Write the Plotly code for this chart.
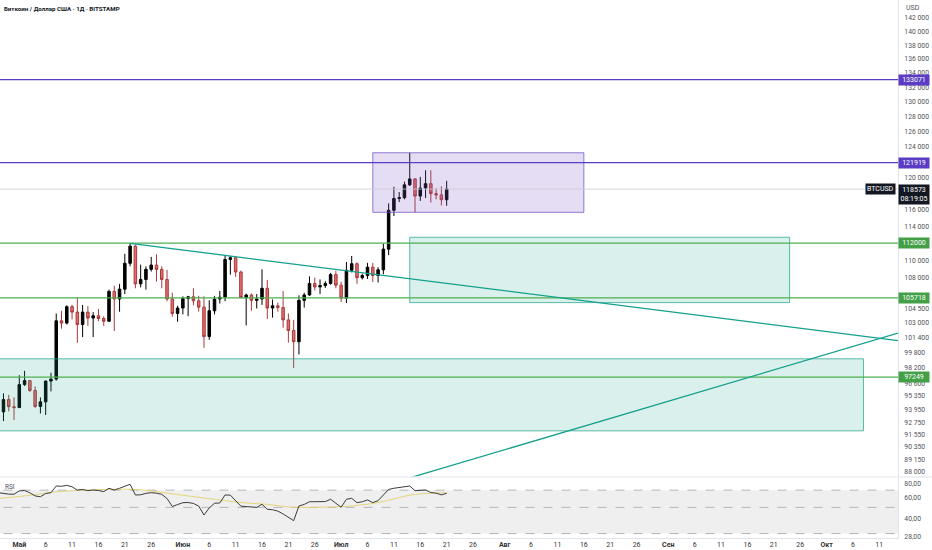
import math
import pandas as pd
import plotly.graph_objects as go

# ---------------- data ----------------
candle_start = "2025-04-28"
opens = [93750, 94980, 94270, 94180, 96490, 96900, 95900, 94300, 94750, 96850,
         97050, 103200, 102950, 104750, 104150, 102800, 104150, 103500, 103750, 103450,
         103150, 106450, 105600, 106700, 109650, 111650, 107300, 107800, 108950, 109450,
         108950, 107800, 105600, 104000, 104600, 105650, 105850, 105400, 104700, 101500,
         104300, 105600, 105800, 110100, 110300, 108650, 105750, 106050, 105450, 105600,
         106800, 104600, 104850, 104650, 103300, 102150, 100950, 105450, 106050, 107350,
         106950, 107100, 107350, 108350, 107150, 105700, 108850, 109600, 108000, 108250,
         109200, 108250, 108900, 111300, 115950, 117400, 117500, 119100, 119850, 117700,
         118700, 119250, 118000, 117850, 117250]
highs = [95600, 95450, 95200, 97450, 97900, 96950, 96300, 95200, 96900, 97700,
         104000, 104300, 104900, 104950, 105750, 104950, 104800, 104150, 104500, 103700,
         106650, 107100, 107300, 110750, 111980, 111800, 109500, 109300, 110400, 110700,
         109300, 108900, 106300, 104850, 105900, 105950, 106800, 105950, 105900, 105450,
         105950, 106500, 110600, 110500, 110400, 108800, 106200, 106200, 106150, 108950,
         107750, 105550, 105200, 106500, 104000, 103300, 106000, 106300, 108150, 108000,
         107800, 107600, 108550, 108800, 107550, 109800, 110500, 109750, 108450, 109700,
         109700, 109200, 111950, 116800, 118850, 118200, 119500, 123200, 119950, 120100,
         120950, 120950, 118650, 118900, 119600]
lows = [92850, 93800, 92950, 94150, 96350, 95750, 94150, 93600, 93450, 95800,
        96900, 102350, 102800, 103350, 100830, 101450, 102650, 101450, 103150, 102650,
        103100, 102100, 104200, 106150, 109300, 106800, 106900, 106650, 108700, 107550,
        106800, 105350, 103650, 103100, 103900, 103700, 104900, 104200, 100300, 101150,
        103900, 105100, 105350, 108350, 108100, 105700, 102700, 104300, 104550, 104950,
        103400, 103550, 104200, 102450, 100850, 98200, 99600, 104650, 105950, 106550,
        106150, 106850, 107200, 106800, 105250, 105150, 108600, 107300, 107800, 107850,
        107500, 107450, 108400, 110600, 115250, 116950, 117300, 118950, 115700, 117100,
        117450, 116900, 117300, 116550, 116500]
closes = [94980, 94270, 94180, 96490, 96900, 95900, 94300, 94750, 96850, 97050,
          103200, 102950, 104750, 104150, 102800, 104150, 103500, 103750, 103450, 103150,
          106450, 105600, 106700, 109650, 111650, 107300, 107800, 108950, 109450, 108950,
          107800, 105600, 104000, 104600, 105650, 105850, 105400, 104700, 101500, 104300,
          105600, 105800, 110100, 110300, 108650, 105750, 106050, 105450, 105600, 106800,
          104600, 104850, 104650, 103300, 102150, 100950, 105450, 106050, 107350, 106950,
          107100, 107350, 108350, 107150, 105700, 108850, 109600, 108000, 108250, 109200,
          108250, 108900, 111300, 115950, 117400, 117500, 119100, 119850, 117700, 118700,
          119250, 118000, 117850, 117250, 118573]

rsi_start = "2025-04-27"
rsi = [66.6, 65.5, 64.8, 64.6, 69.0, 69.5, 66.5, 62.5, 61.5, 65.5,
       66.6, 75.9, 75.5, 76.8, 74.8, 70.0, 71.0, 69.3, 70.2, 69.5,
       68.0, 72.5, 70.2, 72.6, 75.9, 78.5, 63.7, 63.9, 65.8, 66.6,
       66.0, 64.5, 59.5, 50.9, 52.8, 54.8, 55.0, 54.0, 51.3, 43.1,
       49.5, 54.2, 54.5, 63.7, 63.5, 57.5, 51.2, 50.8, 50.2, 50.0,
       53.1, 48.2, 47.8, 46.5, 44.0, 41.0, 38.6, 51.4, 53.0, 55.8,
       55.6, 55.6, 56.0, 58.6, 54.0, 50.1, 58.6, 59.7, 54.8, 55.8,
       57.8, 54.9, 57.0, 63.5, 71.0, 72.6, 73.5, 75.0, 75.9, 69.3,
       69.3, 70.2, 66.8, 66.0, 63.8, 65.8]
rsi_ma_dates = ["2025-04-27", "2025-05-03", "2025-05-08", "2025-05-13", "2025-05-18",
                "2025-05-23", "2025-05-28", "2025-06-02", "2025-06-07", "2025-06-12",
                "2025-06-17", "2025-06-22", "2025-06-27", "2025-07-02", "2025-07-07",
                "2025-07-10", "2025-07-14", "2025-07-17", "2025-07-21"]
rsi_ma = [59.5, 63.3, 67.8, 70.0, 71.0, 71.0, 67.0, 62.5, 58.5, 55.0,
          53.0, 50.1, 50.2, 51.0, 54.0, 57.5, 63.5, 65.5, 66.6]
rsi_levels = [70, 50, 30]

# horizontal levels
purple_levels = [133071, 121919]
green_levels = [112000, 105718, 97249]
last_price = 118573
last_time = "08:19:05"

# zones: (x0, x1, y_low, y_high)
purple_zone = ("2025-07-07", "2025-08-16", 115700, 123200)
green_zones = [("2025-07-14", "2025-09-24", 105200, 112700),
               ("2025-04-01", "2025-10-08", 91900, 99150)]

# trend lines
trend_down = (["2025-05-22", "2025-10-14 13:00"], [111980, 101075])
trend_up = (["2025-07-14 07:00", "2025-10-14 13:00"], [87500, 101870])

# axis ticks
price_ticks = [142000, 140000, 138000, 136000, 134000, 132000, 130000, 128000, 126000,
               124000, 120000, 116000, 114000, 110000, 108000, 104500, 103000, 101400,
               99800, 98200, 96600, 95350, 93950, 92750, 91550, 90350, 89150, 88000]
rsi_ticks = [80, 60, 40, 28]
rsi_tick_text = ["80,00", "60,00", "40,00", "28,00"]
date_ticks = ["2025-05-01", "2025-05-06", "2025-05-11", "2025-05-16", "2025-05-21", "2025-05-26",
              "2025-06-01", "2025-06-06", "2025-06-11", "2025-06-16", "2025-06-21", "2025-06-26",
              "2025-07-01", "2025-07-06", "2025-07-11", "2025-07-16", "2025-07-21", "2025-07-26",
              "2025-08-01", "2025-08-06", "2025-08-11", "2025-08-16", "2025-08-21", "2025-08-26",
              "2025-09-01", "2025-09-06", "2025-09-11", "2025-09-16", "2025-09-21", "2025-09-26",
              "2025-10-01", "2025-10-06", "2025-10-11"]
date_tick_text = ["<b>Май</b>", "6", "11", "16", "21", "26",
                  "<b>Июн</b>", "6", "11", "16", "21", "26",
                  "<b>Июл</b>", "6", "11", "16", "21", "26",
                  "<b>Авг</b>", "6", "11", "16", "21", "26",
                  "<b>Сен</b>", "6", "11", "16", "21", "26",
                  "<b>Окт</b>", "6", "11"]

title_text = "Биткоин / Доллар США · 1Д · BITSTAMP"

# ---------------- styles ----------------
FONT = "Roboto"
PURPLE = "#5b3cc4"
GREEN_LINE = "#4caf50"
GREEN_LABEL = "#43a047"
TEAL = "#14a08c"
X_RANGE = ["2025-04-27 08:12", "2025-10-14 13:00"]
FAR = ["2025-03-01", "2025-12-31"]

dates = pd.date_range(candle_start, periods=len(opens), freq="D")
rsi_dates = pd.date_range(rsi_start, periods=len(rsi), freq="D")

fig = go.Figure()

# zones
def rect(z, fill, line, yaxis="y"):
    x0, x1, lo, hi = z
    fig.add_trace(go.Scatter(x=[x0, x1, x1, x0, x0], y=[lo, lo, hi, hi, lo],
                             mode="lines", fill="toself", fillcolor=fill,
                             line=dict(color=line, width=1), hoverinfo="skip",
                             yaxis=yaxis))

for z in green_zones:
    rect(z, "rgba(38,166,140,0.17)", "rgba(38,166,140,0.75)")
rect(purple_zone, "rgba(126,87,194,0.2)", "rgba(110,80,200,0.75)")

# horizontal levels
for lv in purple_levels:
    fig.add_trace(go.Scatter(x=FAR, y=[lv, lv], mode="lines",
                             line=dict(color=PURPLE, width=1.2), hoverinfo="skip"))
for lv in green_levels:
    fig.add_trace(go.Scatter(x=FAR, y=[lv, lv], mode="lines",
                             line=dict(color=GREEN_LINE, width=1.2), hoverinfo="skip"))
fig.add_trace(go.Scatter(x=FAR, y=[last_price, last_price], mode="lines",
                         line=dict(color="#c8cad0", width=0.8), hoverinfo="skip"))

# candles
fig.add_trace(go.Candlestick(
    x=dates, open=opens, high=highs, low=lows, close=closes,
    increasing=dict(line=dict(color="#000000", width=1), fillcolor="#000000"),
    decreasing=dict(line=dict(color="#a83a3a", width=1), fillcolor="#e36b6b"),
    hoverinfo="skip", whiskerwidth=0))

# trend lines
for tl in (trend_down, trend_up):
    fig.add_trace(go.Scatter(x=tl[0], y=tl[1], mode="lines",
                             line=dict(color=TEAL, width=1.3), hoverinfo="skip"))

# RSI pane
fig.add_trace(go.Scatter(x=FAR, y=[30, 30], mode="lines", line=dict(width=0),
                         yaxis="y2", hoverinfo="skip"))
fig.add_trace(go.Scatter(x=FAR, y=[70, 70], mode="lines", line=dict(width=0),
                         fill="tonexty", fillcolor="rgba(120,123,134,0.12)",
                         yaxis="y2", hoverinfo="skip"))
for lv in rsi_levels:
    fig.add_trace(go.Scatter(x=FAR, y=[lv, lv], mode="lines",
                             line=dict(color="#a3a6af", width=0.8, dash="dash"),
                             yaxis="y2", hoverinfo="skip"))
fig.add_trace(go.Scatter(x=rsi_ma_dates, y=rsi_ma, mode="lines", line_shape="spline",
                         line=dict(color="rgba(226,210,110,0.9)", width=1),
                         yaxis="y2", hoverinfo="skip"))
fig.add_trace(go.Scatter(x=rsi_dates, y=rsi, mode="lines",
                         line=dict(color="#3c3c3c", width=1),
                         yaxis="y2", hoverinfo="skip"))

# ---------------- annotations ----------------
ann = []
def price_label(v, bg, text=None):
    ann.append(dict(x=1, xref="paper", y=math.log10(v), yref="y", xanchor="left",
                    yanchor="middle", text=text or str(v), showarrow=False,
                    bgcolor=bg, font=dict(color="white", size=7, family=FONT),
                    borderpad=1, width=28, align="center"))

for lv in purple_levels:
    price_label(lv, PURPLE)
for lv in green_levels:
    price_label(lv, GREEN_LABEL)
ann.append(dict(x=1, xref="paper", y=math.log10(last_price), yref="y", xanchor="left",
                yanchor="top", yshift=5, text=f"{last_price}<br>{last_time}", showarrow=False,
                bgcolor="#131722", font=dict(color="white", size=7, family=FONT),
                borderpad=1, width=28, align="center"))
ann.append(dict(x=1, xref="paper", xshift=-2, y=math.log10(last_price), yref="y",
                xanchor="right", yanchor="middle", text="BTCUSD", showarrow=False,
                bgcolor="#131722", font=dict(color="white", size=7, family=FONT),
                borderpad=1))
ann.append(dict(x=0, xref="paper", xshift=2, y=1, yref="paper", yshift=-3,
                xanchor="left", yanchor="top", text=title_text, showarrow=False,
                font=dict(color="#131722", size=6.2, family=FONT, weight="bold")))
ann.append(dict(x=1, xref="paper", xshift=6, y=1, yref="paper", yshift=-2,
                xanchor="left", yanchor="top", text="USD", showarrow=False,
                font=dict(color="#50535e", size=7, family=FONT)))
ann.append(dict(x=0, xref="paper", xshift=3, y=0.1124, yref="paper", yshift=-3,
                xanchor="left", yanchor="top", text="RSI", showarrow=False,
                font=dict(color="#50535e", size=6.5, family=FONT)))

H = 550
B = 12
ph = H - B
main_bottom_px = 476.5
rsi_top_px = 477.5

fig.update_layout(
    width=932, height=H,
    margin=dict(l=0, r=34, t=0, b=B, autoexpand=False),
    paper_bgcolor="white", plot_bgcolor="white",
    showlegend=False, hovermode=False,
    boxgap=0.32,
    font=dict(family=FONT, size=7, color="#50535e"),
    xaxis=dict(type="date", range=X_RANGE, anchor="y2", domain=[0, 1],
               rangeslider=dict(visible=False), showgrid=False, zeroline=False,
               tickvals=date_ticks, ticktext=date_tick_text, ticks="",
               tickfont=dict(size=7, color="#333", family=FONT),
               showline=True, linecolor="#e0e3eb", fixedrange=True, automargin=False),
    yaxis=dict(type="log", side="right", anchor="x",
               domain=[1 - main_bottom_px / ph, 1],
               range=[math.log10(142000) - (main_bottom_px - 18) / 2184.7,
                      math.log10(142000) + 18 / 2184.7],
               tickvals=price_ticks,
               ticktext=[f"{v // 1000} {v % 1000:03d}" for v in price_ticks],
               tickfont=dict(size=6.8, color="#50535e", family=FONT),
               showgrid=False, zeroline=False, ticks="", ticklabelstandoff=4,
               showline=True, linecolor="#e0e3eb", fixedrange=True, automargin=False),
    yaxis2=dict(type="log", side="right", anchor="x",
                domain=[0, 1 - rsi_top_px / ph],
                range=[math.log10(80) - (538 - 483.3) / 118,
                       math.log10(80) + (483.3 - rsi_top_px) / 118],
                tickvals=rsi_ticks, ticktext=rsi_tick_text,
                tickfont=dict(size=6.8, color="#50535e", family=FONT),
                showgrid=False, zeroline=False, ticks="", ticklabelstandoff=4,
                showline=True, linecolor="#e0e3eb", fixedrange=True, automargin=False),
    annotations=ann,
    shapes=[dict(type="line", xref="paper", yref="paper", x0=0, x1=932 / 898,
                 y0=1 - 477 / ph, y1=1 - 477 / ph,
                 line=dict(color="#e0e3eb", width=1))],
)

fig.write_html("out.html",
               config={"displayModeBar": False, "staticPlot": True},
               post_script="document.body.style.margin='0';document.body.style.overflow='hidden';")
